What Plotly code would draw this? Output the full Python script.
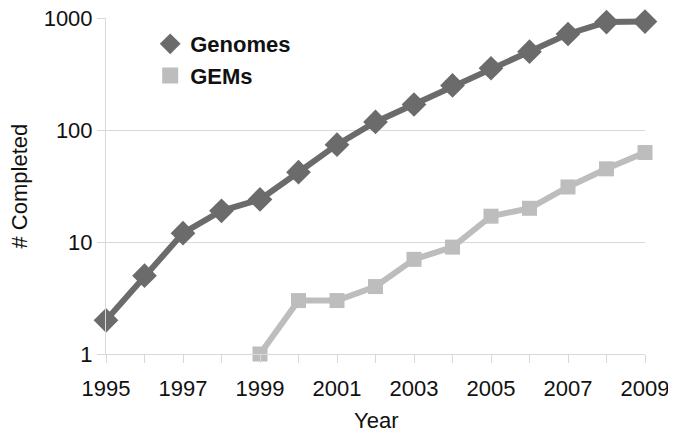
import plotly.graph_objects as go

years = list(range(1995, 2010))
genomes = [2, 5, 12, 19, 24, 42, 74, 118, 169, 250, 356, 500, 720, 920, 930]
gem_years = list(range(1999, 2010))
gems = [1, 3, 3, 4, 7, 9, 17, 20, 31, 45, 63]

x_tick_vals = years
x_tick_text = [str(y) if (y - 1995) % 2 == 0 else "" for y in years]
y_tick_vals = [1, 10, 100, 1000]
y_tick_text = ["1", "10", "100", "1000"]

font_family = "Liberation Sans, Arial, sans-serif"
c_gen = "#6b6b6b"
c_gem = "#bdbdbd"

fig = go.Figure()
fig.add_trace(go.Scatter(
    x=years, y=genomes, name="Genomes", mode="lines+markers", showlegend=False,
    legendgroup="g",
    line=dict(color=c_gen, width=6),
    marker=dict(symbol="diamond", size=19, color=c_gen),
    cliponaxis=False,
))
fig.add_trace(go.Scatter(
    x=gem_years, y=gems, name="GEMs", mode="lines+markers", showlegend=False,
    legendgroup="m",
    line=dict(color=c_gem, width=6),
    marker=dict(symbol="square", size=15, color=c_gem),
    cliponaxis=False,
))
# legend-only entries (marker without line, as in reference)
fig.add_trace(go.Scatter(x=[None], y=[None], name="Genomes", mode="markers",
                         legendgroup="g", marker=dict(symbol="diamond", size=17, color=c_gen)))
fig.add_trace(go.Scatter(x=[None], y=[None], name="GEMs", mode="markers",
                         legendgroup="m", marker=dict(symbol="square", size=16, color=c_gem)))

# The page body has an 8px margin, so figure coordinates = screen - 8.
fig.update_layout(
    width=668, height=427,
    margin=dict(l=98, r=31, t=10, b=81, autoexpand=False),
    paper_bgcolor="white", plot_bgcolor="white",
    font=dict(family=font_family, size=22, color="#111111"),
    showlegend=True,
    legend=dict(x=0.082, y=0.985, xanchor="left", yanchor="top",
                font=dict(size=22, family=font_family, weight="bold", color="#111"),
                bgcolor="rgba(0,0,0,0)", itemsizing="trace", tracegroupgap=0,
                itemwidth=30),
    xaxis=dict(
        range=[1995, 2009], tickmode="array", tickvals=x_tick_vals, ticktext=x_tick_text,
        ticks="outside", ticklen=8, tickcolor="#d9d9d9", tickwidth=1,
        showline=True, linecolor="#d9d9d9", linewidth=1, showgrid=False, zeroline=False,
        automargin=False, tickfont=dict(size=22), ticklabelstandoff=7,
        ticklabeloverflow="allow",
    ),
    yaxis=dict(
        type="log", range=[0, 3.0000001], tickmode="array", tickvals=y_tick_vals,
        ticktext=y_tick_text,
        ticks="outside", ticklen=8, tickcolor="#d9d9d9",
        showline=True, linecolor="#d9d9d9", linewidth=1,
        showgrid=True, gridcolor="#d9d9d9", gridwidth=1, zeroline=False,
        automargin=False, tickfont=dict(size=22), ticklabeloverflow="allow",
    ),
    annotations=[
        dict(text="Year", x=0.5, y=-0.197, xref="paper", yref="paper",
             xanchor="center", yanchor="middle", showarrow=False, font=dict(size=22)),
        dict(text="# Completed", x=-0.1605, y=0.5, xref="paper", yref="paper",
             xanchor="center", yanchor="middle", showarrow=False, textangle=-90,
             font=dict(size=22)),
    ],
)

fig.write_html("out.html")
